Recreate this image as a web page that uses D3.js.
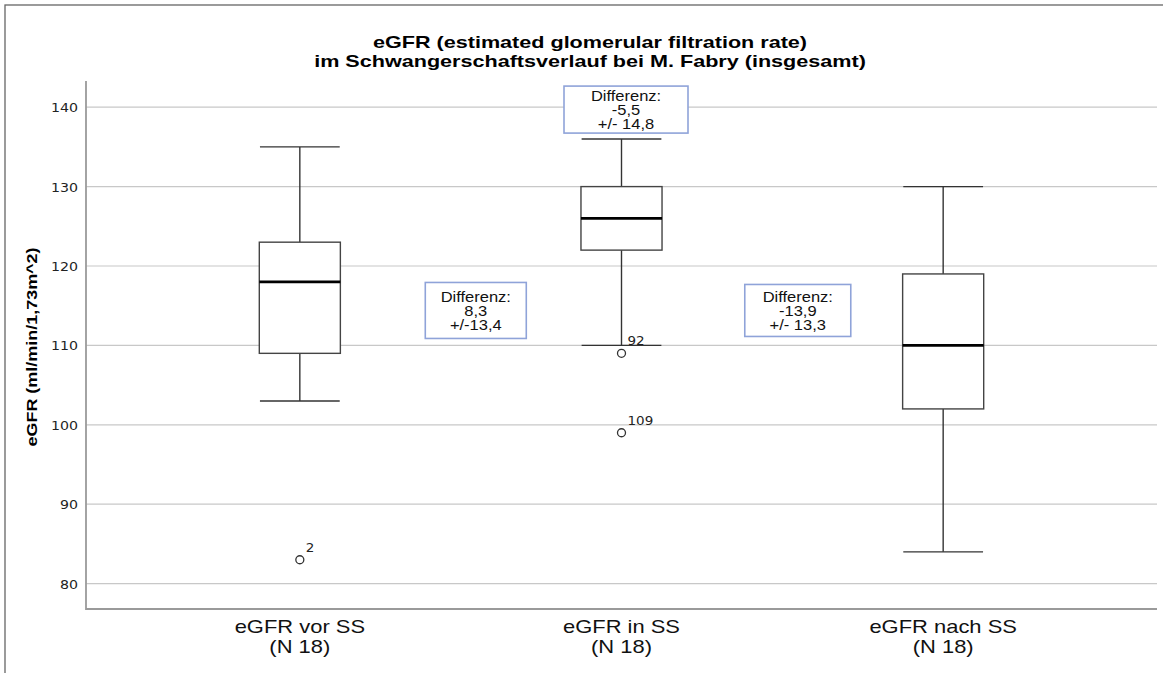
<!DOCTYPE html>
<html>
<head>
<meta charset="utf-8">
<script src="https://cdn.jsdelivr.net/npm/d3@7"></script>
<style>
  body { margin: 0; background: #fff; }
  svg { display: block; }
</style>
</head>
<body>
<svg id="chart" width="1163" height="673"></svg>
<script>
// values
const categories = ['eGFR vor SS', 'eGFR in SS', 'eGFR nach SS'];
const groupN = [18, 18, 18];
const whiskerLow = [103, 110, 84];
const q1 = [109, 122, 102];
const median = [118, 126, 110];
const q3 = [123, 130, 119];
const whiskerHigh = [135, 136, 130];

const outlierGroup = [0, 1, 1];
const outlierValue = [83, 109, 99];
const outlierCase = ['2', '92', '109'];

const diffMean = ['8,3', '-5,5', '-13,9'];
const diffSD = ['+/-13,4', '+/- 14,8', '+/- 13,3'];

const yTicks = [80, 90, 100, 110, 120, 130, 140];

// layout of the difference notes: [group index, eGFR] and box size in px
const annoPos = [[0.547, 114.4], [1.014, 139.7], [1.548, 114.4]];
const annoSize = [[101, 56], [124, 47], [106, 52]];

const width = 1163, height = 673;
const plot = {left: 86, right: 1157, top: 81, bottom: 609};

const svg = d3.select('#chart');

const x = d3.scaleBand()
    .domain(categories)
    .range([139, 1104]);
const xIdx = d3.scaleLinear()
    .domain([0, categories.length - 1])
    .range([x(categories[0]) + x.bandwidth() / 2,
            x(categories[categories.length - 1]) + x.bandwidth() / 2]);
const y = d3.scaleLinear()
    .domain([76.8, 143.3])
    .range([plot.bottom, plot.top]);

const boxW = x.bandwidth() * 0.252;
const capW = x.bandwidth() * 0.124;

// text in the picture is a bit wider than the fonts, stretch horizontally
function stretchedText(parent, str, tx, ty, sx, attrs, rotate) {
  const t = parent.append('text')
      .attr('transform', `translate(${tx},${ty})` + (rotate ? ` rotate(${rotate})` : '') + ` scale(${sx},1)`)
      .text(str);
  Object.entries(attrs).forEach(([k, v]) => t.attr(k, v));
  return t;
}

// outer frame (cut off at right and bottom)
svg.append('rect')
    .attr('x', 5).attr('y', 5)
    .attr('width', 1300).attr('height', 800)
    .attr('fill', 'none')
    .attr('stroke', '#666')
    .attr('stroke-width', 1.3);

// gridlines
svg.append('g')
  .selectAll('line')
  .data(yTicks)
  .join('line')
    .attr('x1', plot.left).attr('x2', plot.right)
    .attr('y1', d => y(d)).attr('y2', d => y(d))
    .attr('stroke', '#c8c8c8')
    .attr('stroke-width', 1.2);

// axes lines
svg.append('line')
    .attr('x1', plot.left).attr('x2', plot.left)
    .attr('y1', plot.top).attr('y2', plot.bottom + 1)
    .attr('stroke', '#9a9a9a').attr('stroke-width', 1.8);
svg.append('line')
    .attr('x1', plot.left).attr('x2', plot.right)
    .attr('y1', plot.bottom).attr('y2', plot.bottom)
    .attr('stroke', '#9a9a9a').attr('stroke-width', 1.8);

// tick labels
const tickG = svg.append('g');
yTicks.forEach(v => {
  stretchedText(tickG, v, 78, y(v) + 5, 1.09, {
    'text-anchor': 'end',
    'font-family': 'DejaVu Sans',
    'font-size': 13,
    'fill': '#222'
  });
});

// boxes
const boxes = svg.append('g')
  .selectAll('g')
  .data(categories)
  .join('g')
    .attr('transform', d => `translate(${x(d) + x.bandwidth() / 2},0)`);

boxes.append('line')
    .attr('y1', (d, i) => y(whiskerHigh[i]))
    .attr('y2', (d, i) => y(q3[i]))
    .attr('stroke', '#333').attr('stroke-width', 1.4);
boxes.append('line')
    .attr('y1', (d, i) => y(q1[i]))
    .attr('y2', (d, i) => y(whiskerLow[i]))
    .attr('stroke', '#333').attr('stroke-width', 1.4);
boxes.append('line')
    .attr('x1', -capW).attr('x2', capW)
    .attr('y1', (d, i) => y(whiskerHigh[i]))
    .attr('y2', (d, i) => y(whiskerHigh[i]))
    .attr('stroke', '#333').attr('stroke-width', 1.4);
boxes.append('line')
    .attr('x1', -capW).attr('x2', capW)
    .attr('y1', (d, i) => y(whiskerLow[i]))
    .attr('y2', (d, i) => y(whiskerLow[i]))
    .attr('stroke', '#333').attr('stroke-width', 1.4);
boxes.append('rect')
    .attr('x', -boxW / 2)
    .attr('width', boxW)
    .attr('y', (d, i) => y(q3[i]))
    .attr('height', (d, i) => y(q1[i]) - y(q3[i]))
    .attr('fill', '#fff')
    .attr('stroke', '#444').attr('stroke-width', 1.4);
boxes.append('line')
    .attr('x1', -boxW / 2).attr('x2', boxW / 2)
    .attr('y1', (d, i) => y(median[i]))
    .attr('y2', (d, i) => y(median[i]))
    .attr('stroke', '#000').attr('stroke-width', 2.6);

// outliers
const outG = svg.append('g');
outlierValue.forEach((v, i) => {
  const cx = x(categories[outlierGroup[i]]) + x.bandwidth() / 2;
  outG.append('circle')
      .attr('cx', cx).attr('cy', y(v)).attr('r', 4)
      .attr('fill', '#fff')
      .attr('stroke', '#333').attr('stroke-width', 1.3);
  stretchedText(outG, outlierCase[i], cx + 6, y(v) - 8, 1.08, {
    'font-family': 'DejaVu Sans',
    'font-size': 12.5,
    'fill': '#222'
  });
});

// difference notes
const annoG = svg.append('g');
annoPos.forEach(([p, v], i) => {
  const cx = xIdx(p), cy = y(v);
  const [w, h] = annoSize[i];
  annoG.append('rect')
      .attr('x', cx - w / 2).attr('y', cy - h / 2)
      .attr('width', w).attr('height', h)
      .attr('fill', '#fff')
      .attr('stroke', '#8fa3d9').attr('stroke-width', 1.6);
  ['Differenz:', diffMean[i], diffSD[i]].forEach((line, j) => {
    stretchedText(annoG, line, cx, cy - 8.6 + j * 14, 1.1, {
      'text-anchor': 'middle',
      'font-family': 'Liberation Sans, Arial, sans-serif',
      'font-size': 15,
      'fill': '#111'
    });
  });
});

// category labels
const catG = svg.append('g');
categories.forEach((c, i) => {
  const cx = x(c) + x.bandwidth() / 2;
  const attrs = {
    'text-anchor': 'middle',
    'font-family': 'Liberation Sans, Arial, sans-serif',
    'font-size': 17.7,
    'fill': '#111'
  };
  stretchedText(catG, c, cx, 633, 1.24, attrs);
  stretchedText(catG, `(N ${groupN[i]})`, cx, 652.5, 1.24, attrs);
});

// title
const titleAttrs = {
  'text-anchor': 'middle',
  'font-family': 'Liberation Sans, Arial, sans-serif',
  'font-weight': 'bold',
  'font-size': 17,
  'fill': '#000'
};
stretchedText(svg, 'eGFR (estimated glomerular filtration rate)', 590, 48, 1.27, titleAttrs);
stretchedText(svg, 'im Schwangerschaftsverlauf bei M. Fabry (insgesamt)', 590, 67, 1.27, titleAttrs);

// y axis title
stretchedText(svg, 'eGFR (ml/min/1,73m^2)', 37, 347, 1.16, {
  'text-anchor': 'middle',
  'font-family': 'Liberation Sans, Arial, sans-serif',
  'font-weight': 'bold',
  'font-size': 15.5,
  'fill': '#000'
}, -90);
</script>
</body>
</html>
